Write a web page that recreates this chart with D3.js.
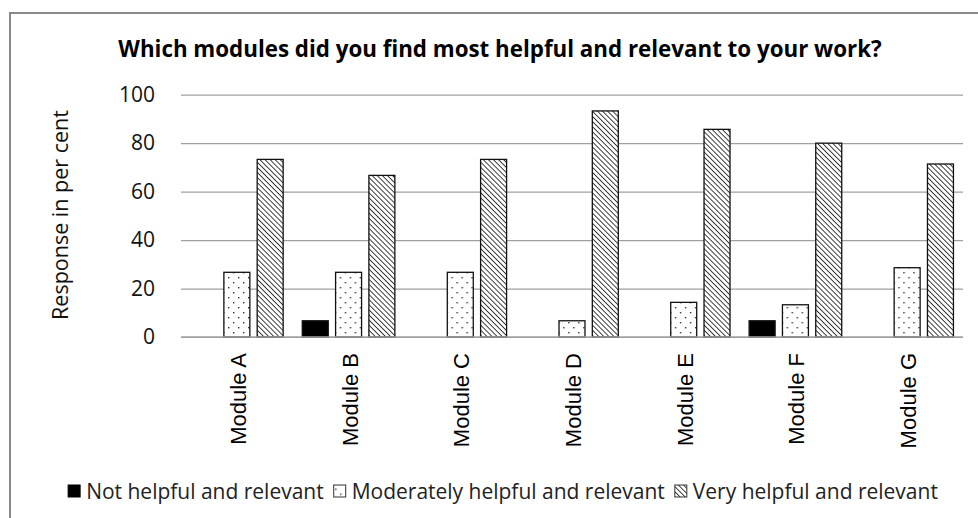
<!DOCTYPE html>
<html><head><meta charset="utf-8">
<script src="https://cdn.jsdelivr.net/npm/d3@7"></script>
<style>html,body{margin:0;padding:0;background:#fff;}svg{display:block;}</style>
</head><body>
<script>
const categories = ["Module A","Module B","Module C","Module D","Module E","Module F","Module G"];
const seriesNames = ["Not helpful and relevant","Moderately helpful and relevant","Very helpful and relevant"];
const notHelpful = [0, 6.7, 0, 0, 0, 6.7, 0];
const moderately = [26.7, 26.7, 26.7, 6.7, 14.3, 13.3, 28.6];
const veryHelpful = [73.3, 66.7, 73.3, 93.3, 85.7, 80, 71.4];
const yTicks = [0, 20, 40, 60, 80, 100];
const titleText = "Which modules did you find most helpful and relevant to your work?";
const yTitle = "Response in per cent";

const W = 978, H = 518;
const svg = d3.select("body").append("svg").attr("width", W).attr("height", H);
const defs = svg.append("defs");

// patterns
const dots = defs.append("pattern").attr("id","dots").attr("patternUnits","userSpaceOnUse")
  .attr("width",10).attr("height",10);
dots.append("rect").attr("width",10).attr("height",10).attr("fill","#fff");
dots.append("rect").attr("x",2).attr("y",2).attr("width",1.4).attr("height",1.4).attr("fill","#333");
dots.append("rect").attr("x",7).attr("y",7).attr("width",1.4).attr("height",1.4).attr("fill","#333");

const hatch = defs.append("pattern").attr("id","hatch").attr("patternUnits","userSpaceOnUse")
  .attr("width",3.6).attr("height",3.6).attr("patternTransform","rotate(-45)");
hatch.append("rect").attr("width",3.6).attr("height",3.6).attr("fill","#fff");
hatch.append("line").attr("x1",0).attr("y1",0).attr("x2",0).attr("y2",3.6)
  .attr("stroke","#111").attr("stroke-width",1.6);

const fills = ["#000","url(#dots)","url(#hatch)"];
const seriesData = [notHelpful, moderately, veryHelpful];

// chart border
svg.append("rect").attr("x",10).attr("y",13).attr("width",W).attr("height",H)
  .attr("fill","none").attr("stroke","#8a8a8a").attr("stroke-width",2);

const plot = {left:181, right:963, top:94.7, bottom:337};
const x0 = d3.scaleBand().domain(categories).range([plot.left, plot.right]).padding(0);
const x1 = d3.scaleBand().domain(d3.range(seriesNames.length)).range([0, x0.bandwidth()])
  .paddingInner(0.22).paddingOuter(0.287);
const y = d3.scaleLinear().domain([0,100]).range([plot.bottom, plot.top]);

const calibri = "'Open Sans', 'Liberation Sans', sans-serif";

// gridlines
const yAxis = d3.axisLeft(y).tickValues(yTicks).tickSize(-(plot.right-plot.left)).tickFormat(d3.format("d")).tickPadding(26);
const gy = svg.append("g").attr("transform",`translate(${plot.left},0)`).call(yAxis);
gy.select(".domain").remove();
gy.selectAll(".tick line").attr("stroke","#a0a0a0").attr("stroke-width",1.2);
gy.selectAll(".tick text").attr("font-family",calibri).attr("font-size",21).attr("fill","#111");

// bars
const groups = svg.append("g").selectAll("g").data(categories).join("g")
  .attr("transform", d => `translate(${x0(d)},0)`);
groups.selectAll("rect")
  .data((c,i) => seriesData.map((s,k) => ({k, v:s[i]})).filter(d => d.v > 0))
  .join("rect")
  .attr("x", d => x1(d.k)).attr("width", x1.bandwidth())
  .attr("y", d => y(d.v)).attr("height", d => y(0)-y(d.v))
  .attr("fill", d => fills[d.k]).attr("stroke","#111").attr("stroke-width",1.3);

// baseline
svg.append("line").attr("x1",plot.left).attr("x2",plot.right).attr("y1",y(0)).attr("y2",y(0))
  .attr("stroke","#a0a0a0").attr("stroke-width",1.4);

// category labels
svg.append("g").selectAll("text").data(categories).join("text")
  .attr("transform", d => `translate(${x0(d)+x0.bandwidth()/2+9},353) rotate(-90)`)
  .attr("text-anchor","end")
  .attr("font-family","'Liberation Sans', Arial, sans-serif").attr("font-size",22).attr("fill","#000")
  .text(d => d);

// fit helper
function fitFont(sel, target) {
  const w = sel.node().getComputedTextLength();
  const fs = parseFloat(sel.attr("font-size"));
  sel.attr("font-size", fs*target/w);
}

// title
const t = svg.append("text").attr("x",500).attr("y",57).attr("text-anchor","middle")
  .attr("font-family",calibri).attr("font-weight","bold").attr("font-size",20).attr("fill","#000")
  .text(titleText);
fitFont(t, 764);

// y title
const yt = svg.append("text").attr("transform","translate(68,215) rotate(-90)").attr("text-anchor","middle")
  .attr("font-family",calibri).attr("font-size",20).attr("fill","#111").text(yTitle);
fitFont(yt, 210);

// legend
const lg = svg.append("g");
let fs = 18;
function buildLegend(size){
  lg.selectAll("*").remove();
  let xp = 0;
  seriesNames.forEach((name,k) => {
    lg.append("rect").attr("x",xp).attr("y",-6.5).attr("width",12).attr("height",12)
      .attr("fill",fills[k]).attr("stroke", k===0 ? "#000" : "#333").attr("stroke-width",1);
    const tx = lg.append("text").attr("x",xp+18).attr("y",0).attr("dy","0.35em")
      .attr("font-family",calibri).attr("font-size",size).attr("fill","#222").text(name);
    xp += 18 + tx.node().getComputedTextLength() + 10;
  });
  return xp - 10;
}
let total = buildLegend(fs);
fs = fs * (870-18*3-20) / (total-18*3-20);
total = buildLegend(fs);
lg.attr("transform",`translate(${68 + (870-total)/2},491.5)`);
</script>
</body></html>
